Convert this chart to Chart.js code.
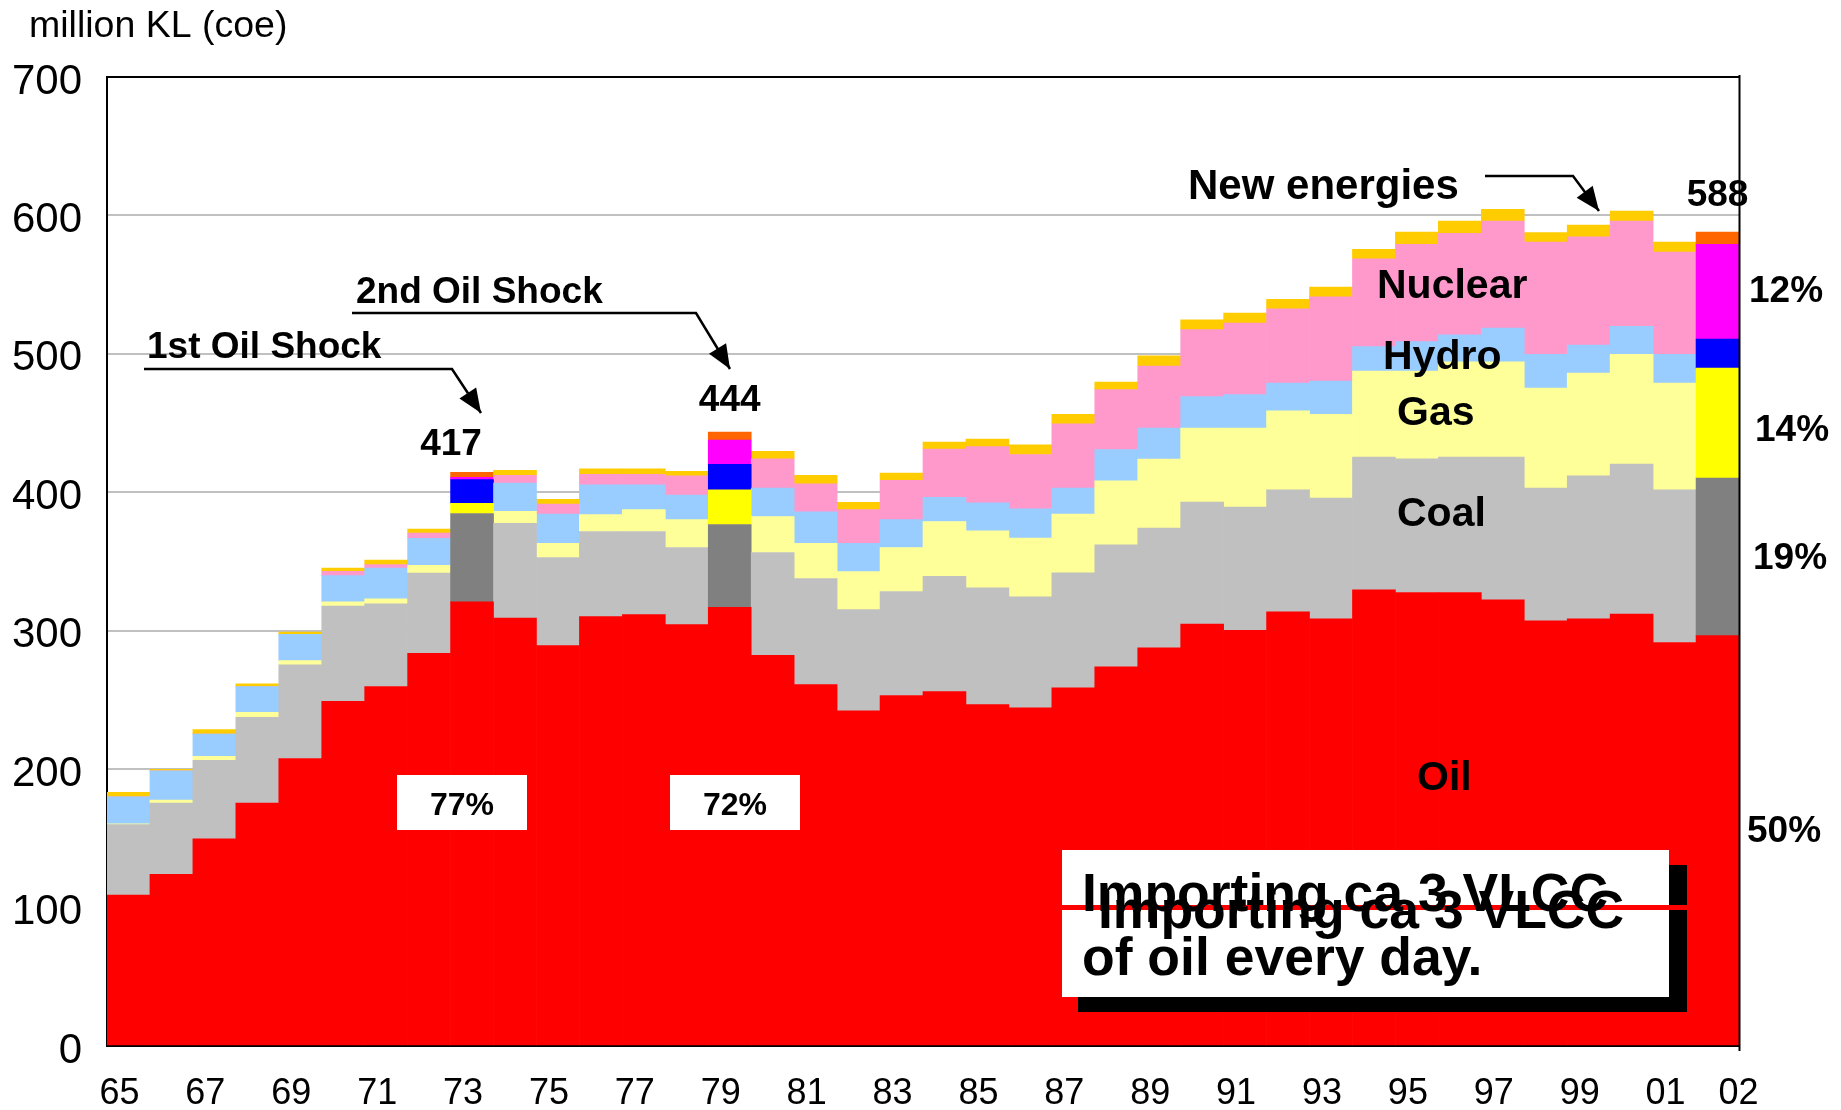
<!DOCTYPE html>
<html><head><meta charset="utf-8">
<script src="https://cdn.jsdelivr.net/npm/chart.js@4.4.1/dist/chart.umd.min.js"></script>
<style>html,body{margin:0;padding:0;background:#fff;}#wrap{width:1841px;height:1110px;position:relative;}</style>
</head><body><div id="wrap"><canvas id="c"></canvas></div>
<script>
const years = [1965,1966,1967,1968,1969,1970,1971,1972,1973,1974,1975,1976,1977,1978,1979,1980,1981,1982,1983,1984,1985,1986,1987,1988,1989,1990,1991,1992,1993,1994,1995,1996,1997,1998,1999,2000,2001,2002];
const tickLabels = ['65','','67','','69','','71','','73','','75','','77','','79','','81','','83','','85','','87','','89','','91','','93','','95','','97','','99','','01','      02'];
const oil = [109,124,149.6,175.5,207.7,249,259.7,283.6,320.8,309.2,289.2,310.2,311.6,304.4,316.9,282.3,261,242.1,253.2,256,246.6,244.3,258.8,274,287.6,304.8,300.3,313.7,308.5,329.6,327.6,327.6,322.4,307.2,308.5,312.1,291.5,296.4];
const coal = [51,51.5,56.7,61.9,67.7,68.8,59.7,58.1,63.9,68.3,63.7,61.5,60.1,55.7,59.8,74.2,76.7,73.1,75.1,83.3,84.3,80.2,83,88.1,86.6,88.2,89.1,88.1,87.4,95.9,96.6,97.9,103.1,95.9,103.4,108.3,110.3,113.9];
const gas = [0.5,2.2,3,3.6,3,3,3.6,5.5,7.4,8.8,10.3,12.2,15.8,20.2,25,26,25.5,27.5,31.8,39.6,41.3,42.5,42.5,46.1,49.8,53.4,57,57,60.5,62.1,63.4,68.8,68.8,72.2,74.2,79.3,77.1,79.4];
const hydro = [19.5,21,16,18.7,19,19,22.3,19.6,17.1,20.4,21,21.4,17.8,17.7,18.5,20.5,22.7,20.5,20.2,17.5,20.1,21.1,18.8,22.7,22.4,22.7,24.2,20.1,24,17.6,21.2,19.4,24.3,24.4,20.3,20.1,20.8,20.9];
const nuclear = [0,0,0,0,0,3.1,2.5,3.8,1.6,5.5,7.2,7.7,7.7,13.9,17.5,21.1,20.2,24.3,28.3,34.9,40.7,39.2,46.4,43.3,44.8,48.4,51.6,53.6,60.8,63.4,70.3,73.4,77.3,81,78.1,76.1,73.8,68.5];
const newEnergies = [3.3,1.1,3.3,1.9,1.6,2.4,3.3,2.8,3.6,3.6,3.6,3.9,3.9,3.3,5.8,5.5,6.1,5.3,5.3,5,5.4,7,6.9,5.4,7.3,7,7.2,6.9,7,6.9,8.8,8.8,8.5,6.9,8.5,7.2,7.2,8.8];
const highlightYears = [1973,1979,2002];
const seriesNames = ['Oil','Coal','Gas','Hydro','Nuclear','New energies'];
const baseColors = ['#ff0000','#c0c0c0','#ffff99','#99ccff','#ff99cc','#ffcc00'];
const hiColors = ['#ff0000','#808080','#ffff00','#0000ff','#ff00ff','#ff6600'];
const seriesData = [oil,coal,gas,hydro,nuclear,newEnergies];

const datasets = seriesData.map((d,k)=>({
  label: seriesNames[k],
  data: d,
  backgroundColor: years.map(yr => highlightYears.includes(yr) ? hiColors[k] : baseColors[k]),
  borderWidth: 0,
  categoryPercentage: 1.0,
  barPercentage: 1.0,
  stack: 's'
}));

const FONT = '"Liberation Sans", Arial, sans-serif';

function arrowPath(ctx, pts){
  ctx.beginPath();
  ctx.moveTo(pts[0][0],pts[0][1]);
  for(let i=1;i<pts.length;i++) ctx.lineTo(pts[i][0],pts[i][1]);
  ctx.stroke();
  const [x1,y1]=pts[pts.length-2], [x2,y2]=pts[pts.length-1];
  const ang=Math.atan2(y2-y1,x2-x1), L=24, W=10;
  ctx.beginPath();
  ctx.moveTo(x2,y2);
  ctx.lineTo(x2-L*Math.cos(ang)+W*Math.sin(ang), y2-L*Math.sin(ang)-W*Math.cos(ang));
  ctx.lineTo(x2-L*Math.cos(ang)-W*Math.sin(ang), y2-L*Math.sin(ang)+W*Math.cos(ang));
  ctx.closePath(); ctx.fill();
}

const annot = {
  id:'annot',
  afterDatasetsDraw(chart){
    const {ctx, chartArea:a, scales:{x,y}} = chart;
    ctx.save();
    ctx.fillStyle='#000'; ctx.strokeStyle='#000';
    // right frame line
    ctx.lineWidth=2;
    ctx.beginPath(); ctx.moveTo(a.right+0.5, a.top-2); ctx.lineTo(a.right+0.5, a.bottom+5); ctx.stroke();
    // title
    ctx.font='37.5px '+FONT; ctx.textBaseline='alphabetic'; ctx.textAlign='left';
    ctx.fillText('million KL (coe)', 29, 37);
    // oil shock annotations
    ctx.font='bold 37px '+FONT;
    ctx.fillText('1st Oil Shock', 147, 358);
    ctx.fillText('2nd Oil Shock', 356, 303);
    ctx.font='bold 42px '+FONT;
    ctx.fillText('New energies', 1188, 199);
    ctx.lineWidth=2.5;
    arrowPath(ctx, [[144,369],[452,369],[481,413]]);
    arrowPath(ctx, [[352,313],[696,313],[730,369]]);
    arrowPath(ctx, [[1485,176],[1573,176],[1599,211]]);
    // totals
    ctx.font='bold 37px '+FONT; ctx.textAlign='center';
    ctx.fillText('417', 451, 455);
    ctx.fillText('444', x.getPixelForValue(14), 411);
    ctx.fillText('588', x.getPixelForValue(37), 206);
    // series labels
    ctx.textAlign='left'; ctx.font='bold 41px '+FONT;
    ctx.fillText('Nuclear', 1377, 298);
    ctx.fillText('Hydro', 1383, 369);
    ctx.fillText('Gas', 1397, 425);
    ctx.fillText('Coal', 1397, 526);
    ctx.fillText('Oil', 1417, 790);
    // share labels at right
    ctx.font='bold 37px '+FONT;
    ctx.fillText('12%', 1749, 302);
    ctx.fillText('14%', 1755, 441);
    ctx.fillText('19%', 1753, 569);
    ctx.fillText('50%', 1747, 842);
    // percent boxes
    ctx.fillStyle='#fff';
    ctx.fillRect(397,775,130,55);
    ctx.fillRect(670,775,130,55);
    ctx.fillStyle='#000'; ctx.textAlign='center'; ctx.font='bold 32px '+FONT;
    ctx.fillText('77%', 462, 815);
    ctx.fillText('72%', 735, 815);
    // import box
    ctx.fillStyle='#000'; ctx.fillRect(1078,865,609,147);
    ctx.fillStyle='#fff'; ctx.fillRect(1062,850,607,147);
    ctx.fillStyle='#ff0000'; ctx.fillRect(1062,905,625,5);
    ctx.fillStyle='#000'; ctx.textAlign='left'; ctx.font='bold 53.5px '+FONT;
    ctx.fillText('Importing ca 3 VLCC', 1082, 911);
    ctx.fillText('Importing ca 3 VLCC', 1098, 928);
    ctx.fillText('of oil every day.', 1082, 975);
    ctx.restore();
  }
};

new Chart(document.getElementById('c'), {
  type:'bar',
  data:{labels: tickLabels, datasets},
  options:{
    responsive:true, maintainAspectRatio:false, animation:false, devicePixelRatio:1,
    layout:{padding:{top:77,right:102,left:0,bottom:0}},
    plugins:{legend:{display:false}, tooltip:{enabled:false}, title:{display:false}},
    scales:{
      x:{stacked:true, offset:true,
        grid:{display:false, drawTicks:false},
        border:{display:true,color:'#000',width:2},
        ticks:{autoSkip:false,maxRotation:0,minRotation:0,color:'#000',padding:26,labelOffset:-9,
          font:{family:FONT,size:36}},
        afterFit(s){s.height=64;}
      },
      y:{stacked:true,min:0,max:700,
        grid:{drawTicks:false,lineWidth:2,color:(c)=> c.tick && c.tick.value===700 ? '#000' : '#c0c0c0'},
        border:{display:true,color:'#000',width:2},
        ticks:{stepSize:100,color:'#000',padding:25,labelOffset:5,font:{family:FONT,size:42}},
        afterFit(s){s.width=107;}
      }
    }
  },
  plugins:[annot]
});
</script></body></html>
